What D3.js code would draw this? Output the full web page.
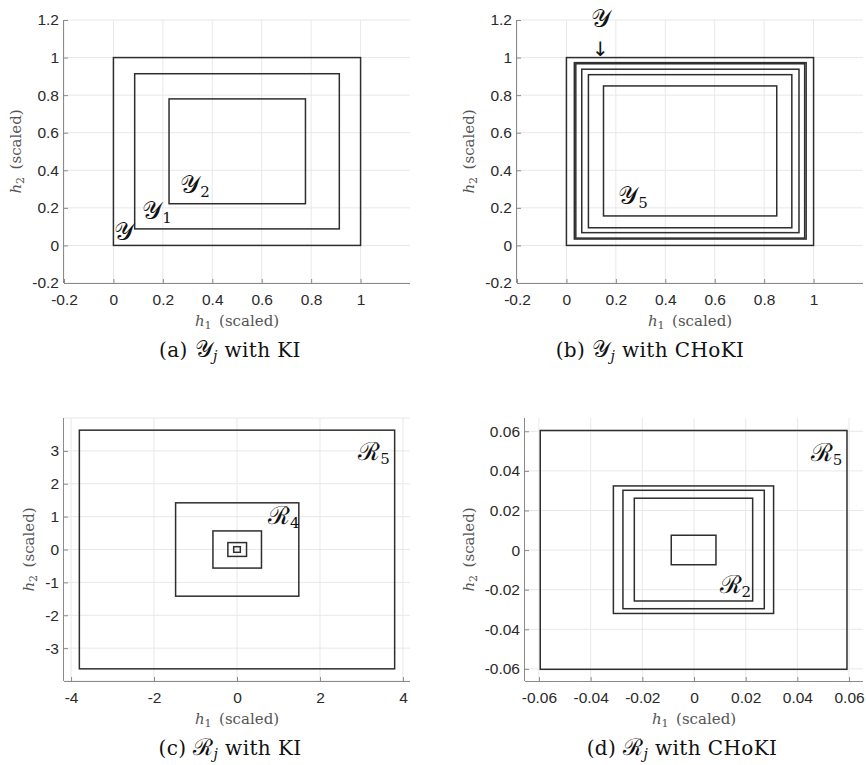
<!DOCTYPE html>
<html>
<head>
<meta charset="utf-8">
<script src="https://cdn.jsdelivr.net/npm/d3@7"></script>
</head>
<body style="margin:0;padding:0;background:#fff">
<svg id="chart" width="866" height="765" style="display:block"></svg>
<script>
// Box sets, each as [h1 min, h1 max, h2 min, h2 max]
const setsY_KI = [
  [0, 1, 0, 1],
  [0.086, 0.914, 0.088, 0.914],
  [0.225, 0.777, 0.222, 0.780]
];
const setsY_CHoKI = [
  [0, 1, 0, 1],
  [0.032, 0.970, 0.034, 0.973],
  [0.038, 0.964, 0.039, 0.967],
  [0.062, 0.941, 0.068, 0.938],
  [0.089, 0.912, 0.094, 0.909],
  [0.150, 0.851, 0.157, 0.849]
];
const setsR_KI = [
  [-0.08, 0.08, -0.085, 0.085],
  [-0.22, 0.23, -0.21, 0.21],
  [-0.58, 0.59, -0.565, 0.565],
  [-1.48, 1.49, -1.42, 1.42],
  [-3.80, 3.80, -3.63, 3.63]
];
const setsR_CHoKI = [
  [-0.0088, 0.0085, -0.0074, 0.0075],
  [-0.0231, 0.0227, -0.0257, 0.0262],
  [-0.0275, 0.0272, -0.0296, 0.0302],
  [-0.0312, 0.0308, -0.0320, 0.0324],
  [-0.0595, 0.0592, -0.0602, 0.0604]
];

// Tick values
const ticksUnit = [-0.2, 0, 0.2, 0.4, 0.6, 0.8, 1];
const ticksUnitY = [-0.2, 0, 0.2, 0.4, 0.6, 0.8, 1, 1.2];
const ticksKIx = [-4, -2, 0, 2, 4];
const ticksKIy = [-3, -2, -1, 0, 1, 2, 3];
const ticksCHoKI = [-0.06, -0.04, -0.02, 0, 0.02, 0.04, 0.06];

// Set annotations: [symbol, subscript, h1, h2]
const labelsA = [["\u{1D4B4}", "", 0.004, 0.03], ["\u{1D4B4}", "1", 0.117, 0.14], ["\u{1D4B4}", "2", 0.27, 0.278]];
const labelsB = [["\u{1D4B4}", "", 0.10, 1.165], ["\u{1D4B4}", "5", 0.21, 0.22]];
const labelsC = [["\u211B", "5", 2.92, 2.72], ["\u211B", "4", 0.75, 0.77]];
const labelsD = [["\u211B", "5", 0.0452, 0.045], ["\u211B", "2", 0.0099, -0.0218]];

const captions = [
  ["(a) ", "\u{1D4B4}", "j", " with KI"],
  ["(b) ", "\u{1D4B4}", "j", " with CHoKI"],
  ["(c) ", "\u211B", "j", " with KI"],
  ["(d) ", "\u211B", "j", " with CHoKI"]
];

const SANS = '"Liberation Sans", Arial, sans-serif';
const SERIF = '"DejaVu Serif", "Liberation Serif", serif';

const svg = d3.select("#chart");
const fmt = d => (d === 0 ? "0" : String(+d.toFixed(4)));

function panel(cfg) {
  const g = svg.append("g");
  const x = d3.scaleLinear().domain(cfg.xDom).range([cfg.left, cfg.right]);
  const y = d3.scaleLinear().domain(cfg.yDom).range([cfg.bottom, cfg.top]);

  // grid
  g.append("g").selectAll("line").data(cfg.xGrid).join("line")
    .attr("x1", d => x(d)).attr("x2", d => x(d))
    .attr("y1", cfg.top).attr("y2", cfg.bottom)
    .attr("stroke", "#e8e8e8").attr("stroke-width", 1);
  g.append("g").selectAll("line").data(cfg.yGrid).join("line")
    .attr("y1", d => y(d)).attr("y2", d => y(d))
    .attr("x1", cfg.left).attr("x2", cfg.right)
    .attr("stroke", "#e8e8e8").attr("stroke-width", 1);

  // axes
  const ax = d3.axisBottom(x).tickValues(cfg.xTicks).tickFormat(fmt).tickSize(-4).tickPadding(11);
  const ay = d3.axisLeft(y).tickValues(cfg.yTicks).tickFormat(fmt).tickSize(-4).tickPadding(5);
  const gx = g.append("g").attr("transform", `translate(0,${cfg.bottom})`).call(ax);
  const gy = g.append("g").attr("transform", `translate(${cfg.left},0)`).call(ay);
  [gx, gy].forEach(a => {
    a.attr("font-family", null).attr("font-size", null);
    a.select(".domain").attr("stroke", "#8a8a8a").attr("stroke-width", 1);
    a.selectAll(".tick line").attr("stroke", "#8a8a8a");
    a.selectAll(".tick text").style("font-family", SANS).style("font-size", "15.5px").attr("fill", "#2a2a2a");
  });
  gx.select(".domain").attr("d", `M${cfg.left},0.5H${cfg.right}`);
  gy.select(".domain").attr("d", `M-0.5,${cfg.bottom}V${cfg.top}`);

  // boxes
  g.append("g").selectAll("rect").data(cfg.sets).join("rect")
    .attr("x", d => x(d[0])).attr("width", d => x(d[1]) - x(d[0]))
    .attr("y", d => y(d[3])).attr("height", d => y(d[2]) - y(d[3]))
    .attr("fill", "none").attr("stroke", "#2e2e2e").attr("stroke-width", 1.5);

  // set labels
  const lab = g.append("g").selectAll("text").data(cfg.labels).join("text")
    .style("font-family", SERIF).style("font-size", "25px").attr("fill", "#111")
    .attr("x", d => x(d[2])).attr("y", d => y(d[3]));
  lab.append("tspan").text(d => d[0]);
  lab.append("tspan").attr("dy", 4).style("font-size", "15px").text(d => d[1]);

  // axis titles
  const xl = g.append("text")
    .style("font-family", SERIF).style("font-size", "15px").attr("fill", "#555")
    .attr("x", (cfg.left + cfg.right) / 2).attr("y", cfg.bottom + 43).attr("text-anchor", "middle");
  xl.append("tspan").attr("font-style", "italic").text("h");
  xl.append("tspan").attr("dy", 3).style("font-size", "11px").text("1");
  xl.append("tspan").attr("dy", -3).text("\u2002(scaled)");
  const yl = g.append("text")
    .style("font-family", SERIF).style("font-size", "15px").attr("fill", "#555")
    .attr("transform", `translate(${cfg.yLabelX},${(cfg.top + cfg.bottom) / 2}) rotate(-90)`)
    .attr("text-anchor", "middle");
  yl.append("tspan").attr("font-style", "italic").text("h");
  yl.append("tspan").attr("dy", 3).style("font-size", "11px").text("2");
  yl.append("tspan").attr("dy", -3).text("\u2002(scaled)");

  // caption
  const c = cfg.caption;
  const ct = g.append("text")
    .style("font-family", SERIF).style("font-size", "20px").style("letter-spacing", "0.4px").attr("fill", "#111")
    .attr("x", cfg.capX).attr("y", cfg.capY).attr("text-anchor", "middle");
  ct.append("tspan").text(c[0]);
  ct.append("tspan").style("font-size", "23px").text(c[1]);
  ct.append("tspan").attr("dy", 4).style("font-size", "14px").attr("font-style", "italic").text(c[2]);
  ct.append("tspan").attr("dy", -4).text(c[3]);
  return { g, x, y };
}

panel({
  left: 64, right: 410, top: 20, bottom: 283,
  xDom: [-0.2, 1.2], yDom: [-0.2, 1.2],
  xTicks: ticksUnit, yTicks: ticksUnitY, xGrid: ticksUnit, yGrid: ticksUnitY,
  sets: setsY_KI, labels: labelsA, yLabelX: 21,
  caption: captions[0], capX: 230, capY: 357
});

const pb = panel({
  left: 517, right: 863, top: 20, bottom: 283,
  xDom: [-0.2, 1.2], yDom: [-0.2, 1.2],
  xTicks: ticksUnit, yTicks: ticksUnitY, xGrid: ticksUnit, yGrid: ticksUnitY,
  sets: setsY_CHoKI, labels: labelsB, yLabelX: 474,
  caption: captions[1], capX: 650, capY: 357
});
// arrow pointing at the outer set
pb.g.append("text")
  .style("font-family", '"DejaVu Sans", sans-serif').style("font-size", "20px").attr("fill", "#111")
  .attr("x", pb.x(0.137)).attr("y", pb.y(1.01)).attr("text-anchor", "middle")
  .text("\u2193");

panel({
  left: 64, right: 410, top: 418, bottom: 681,
  xDom: [-4.17, 4.17], yDom: [-4, 4],
  xTicks: ticksKIx, yTicks: ticksKIy, xGrid: ticksKIx, yGrid: [-4, ...ticksKIy, 4],
  sets: setsR_KI, labels: labelsC, yLabelX: 34,
  caption: captions[2], capX: 230, capY: 755
});

panel({
  left: 525, right: 863, top: 418, bottom: 681,
  xDom: [-0.0654, 0.0654], yDom: [-0.0661, 0.0667],
  xTicks: ticksCHoKI, yTicks: ticksCHoKI, xGrid: ticksCHoKI, yGrid: ticksCHoKI,
  sets: setsR_CHoKI, labels: labelsD, yLabelX: 474,
  caption: captions[3], capX: 682, capY: 755
});
</script>
</body>
</html>
